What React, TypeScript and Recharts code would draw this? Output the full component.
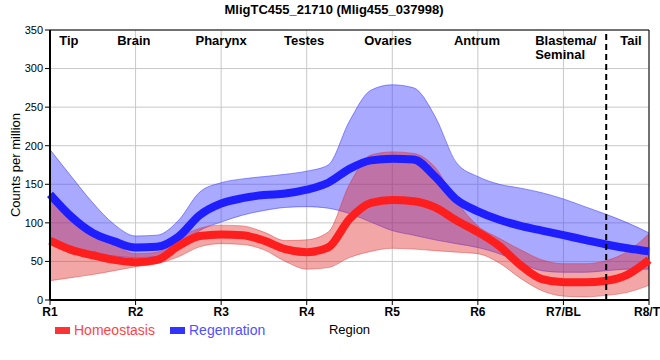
import React from "react";
import {
  ComposedChart,
  Area,
  Line,
  XAxis,
  YAxis,
  CartesianGrid,
  ReferenceLine,
  ReferenceDot,
} from "recharts";

// Sample positions along the body axis (1 = R1 ... 8 = R8)
const positions = [
  1, 1.25, 1.5, 1.75, 2, 2.25, 2.5, 2.75, 3, 3.25, 3.5, 3.75, 4, 4.25, 4.5,
  4.75, 5, 5.25, 5.5, 5.75, 6, 6.25, 6.5, 6.75, 7, 7.25, 7.5, 7.75, 8,
];

const homeoMean = [
  77, 65, 58, 52, 49, 52, 70, 83, 85, 84, 77, 66, 62, 68, 105, 126, 129.5, 128,
  120, 103, 88, 70, 45, 27, 23, 23, 25, 33, 52,
];
const homeoLow = [
  25, 29, 33, 38, 43, 47, 56, 69, 73, 72, 65, 50, 40, 42, 55, 63, 67, 66, 64,
  62, 60, 48, 28, 12, 5, 4, 6, 10, 19,
];
const homeoHigh = [
  132, 110, 90, 72, 60, 62, 80, 93, 97, 96, 88, 77, 78, 88, 150, 188, 192, 190,
  172, 128, 96, 80, 65, 52, 47, 47, 51, 63, 86,
];

const regenMean = [
  137, 108, 87, 76, 68, 69, 82, 110, 125, 132, 136, 138, 143, 152, 170, 181,
  183, 182, 160, 130, 115, 104, 96, 90, 84, 78, 72, 67, 63,
];
const regenLow = [
  78, 66, 60, 57, 55, 56, 66, 90, 101, 110, 116, 120, 121, 119, 112, 101, 90,
  84, 78, 73, 68, 60, 48, 38, 36, 36, 38, 40, 40,
];
const regenHigh = [
  195, 160, 126, 98, 83, 84, 103, 140, 152, 157, 160, 163, 167, 175, 232, 272,
  279, 275, 238, 178, 160, 150, 145, 139, 131, 121, 111, 100, 87,
];

const xTicks = [1, 2, 3, 4, 5, 6, 7, 8];
const xTickLabels = ["R1", "R2", "R3", "R4", "R5", "R6", "R7/BL", "R8/T"];
const yTicks = [0, 50, 100, 150, 200, 250, 300, 350];

const regionNames = [
  ["Tip"],
  ["Brain"],
  ["Pharynx"],
  ["Testes"],
  ["Ovaries"],
  ["Antrum"],
  ["Blastema/", "Seminal"],
  ["Tail"],
];
const regionPositions = [1.22, 1.98, 3.0, 3.97, 4.95, 5.99, 6.67, 7.79];
const regionAnchors = ["middle", "middle", "middle", "middle", "middle", "middle", "start", "middle"];

const tailBoundary = 7.5;

const data = positions.map((r, i) => ({
  r,
  homeo: homeoMean[i],
  homeoBand: [homeoLow[i], homeoHigh[i]],
  regen: regenMean[i],
  regenBand: [regenLow[i], regenHigh[i]],
}));

const FONT = "'Liberation Sans', Arial, sans-serif";

const makeRegionLabel = (lines: string[], anchor: string) => (props: any) => {
  const vb = props.viewBox || {};
  const x = (vb.x ?? 0) + (vb.width ?? 0) / 2;
  const y = vb.y ?? 0;
  return (
    <text
      x={x}
      y={y + 14.5}
      textAnchor={anchor as any}
      fontFamily={FONT}
      fontWeight="bold"
      fontSize={13}
      fill="#000"
    >
      {lines.map((l, k) => (
        <tspan key={k} x={x} dy={k === 0 ? 0 : 14}>
          {l}
        </tspan>
      ))}
    </text>
  );
};

const XTick = (props: any) => {
  const { x, y, payload } = props;
  const label = xTickLabels[xTicks.indexOf(payload.value)] ?? "";
  const isLast = payload.value === xTicks[xTicks.length - 1];
  return (
    <text
      x={isLast ? x - 15 : x}
      y={y}
      dy="0.71em"
      textAnchor={isLast ? "start" : "middle"}
      fontFamily={FONT}
      fontWeight="bold"
      fontSize={12}
      fill="#000"
    >
      {label}
    </text>
  );
};

const YLabel = (props: any) => {
  const vb = props.viewBox || { x: 0, y: 0, width: 0, height: 0 };
  const cx = 12;
  const cy = vb.y + vb.height / 2;
  return (
    <text
      x={cx}
      y={cy}
      transform={`rotate(-90, ${cx}, ${cy})`}
      textAnchor="middle"
      fontFamily={FONT}
      fontSize={13}
      fill="#000"
    >
      Counts per million
    </text>
  );
};

const XLabel = (props: any) => {
  const vb = props.viewBox || { x: 0, y: 0, width: 0, height: 0 };
  const cx = vb.x + vb.width / 2;
  return (
    <text x={cx} y={326} textAnchor="middle" fontFamily={FONT} fontSize={13} fill="#000">
      Region
    </text>
  );
};

export default function App() {
  React.useLayoutEffect(() => {
    document.body.style.margin = "0";
  }, []);
  return (
    <div style={{ position: "relative", width: 660, height: 360, overflow: "hidden" }}>
      <div style={{ position: "absolute", left: 8, top: 8 }}>
        <ComposedChart
          width={652}
          height={352}
          data={data}
          margin={{ top: 22, right: 11, left: 0, bottom: 20 }}
        >
          <CartesianGrid stroke="#c8c8c8" strokeWidth={1} />
          <XAxis
            dataKey="r"
            type="number"
            domain={[1, 8]}
            ticks={xTicks}
            interval={0}
            height={40}
            axisLine={{ stroke: "#000", strokeWidth: 2 }}
            tickLine={{ stroke: "#000", strokeWidth: 1 }}
            tickSize={5}
            tick={<XTick />}
            label={<XLabel />}
          />
          <YAxis
            type="number"
            domain={[0, 350]}
            ticks={yTicks}
            interval={0}
            width={42}
            axisLine={{ stroke: "#000", strokeWidth: 2 }}
            tickLine={{ stroke: "#000", strokeWidth: 1 }}
            tickSize={5}
            tick={{ fill: "#000", fontSize: 11, fontFamily: FONT }}
            label={<YLabel />}
          />
          <ReferenceLine y={350} stroke="#000" strokeWidth={1} />
          <ReferenceLine x={8} stroke="#000" strokeWidth={1} />
          <Area
            dataKey="regenBand"
            type="monotone"
            fill="#4040ff"
            fillOpacity={0.45}
            stroke="#3030ff"
            strokeOpacity={0.5}
            strokeWidth={1}
            isAnimationActive={false}
            activeDot={false}
          />
          <Line
            dataKey="regen"
            type="monotone"
            stroke="#1e1eff"
            strokeWidth={8}
            dot={false}
            activeDot={false}
            isAnimationActive={false}
          />
          <Area
            dataKey="homeoBand"
            type="monotone"
            fill="#e02020"
            fillOpacity={0.4}
            stroke="#e02020"
            strokeOpacity={0.4}
            strokeWidth={1}
            isAnimationActive={false}
            activeDot={false}
          />
          <Line
            dataKey="homeo"
            type="monotone"
            stroke="#ff1e1e"
            strokeWidth={8}
            dot={false}
            activeDot={false}
            isAnimationActive={false}
          />
          <ReferenceLine
            x={tailBoundary}
            stroke="#000"
            strokeWidth={2}
            strokeDasharray="6 4"
          />
          {regionNames.map((lines, i) => (
            <ReferenceDot
              key={i}
              x={regionPositions[i]}
              y={350}
              r={0}
              fill="none"
              stroke="none"
              label={makeRegionLabel(lines, regionAnchors[i])}
            />
          ))}
        </ComposedChart>
      </div>
      <div
        style={{
          position: "absolute",
          top: 2,
          left: 8,
          width: 652,
          textAlign: "center",
          fontFamily: FONT,
          fontWeight: "bold",
          fontSize: 13,
          lineHeight: "15px",
          color: "#000",
        }}
      >
        MligTC455_21710 (Mlig455_037998)
      </div>
      <div style={{ position: "absolute", left: 55, top: 327, width: 15, height: 7, background: "#ff3333" }} />
      <div
        style={{
          position: "absolute",
          left: 74,
          top: 322,
          fontFamily: FONT,
          fontSize: 14,
          lineHeight: "16px",
          color: "#ff4444",
        }}
      >
        Homeostasis
      </div>
      <div style={{ position: "absolute", left: 170, top: 327, width: 15, height: 7, background: "#3333ff" }} />
      <div
        style={{
          position: "absolute",
          left: 189,
          top: 322,
          fontFamily: FONT,
          fontSize: 14,
          lineHeight: "16px",
          color: "#5050ff",
        }}
      >
        Regenration
      </div>
    </div>
  );
}
